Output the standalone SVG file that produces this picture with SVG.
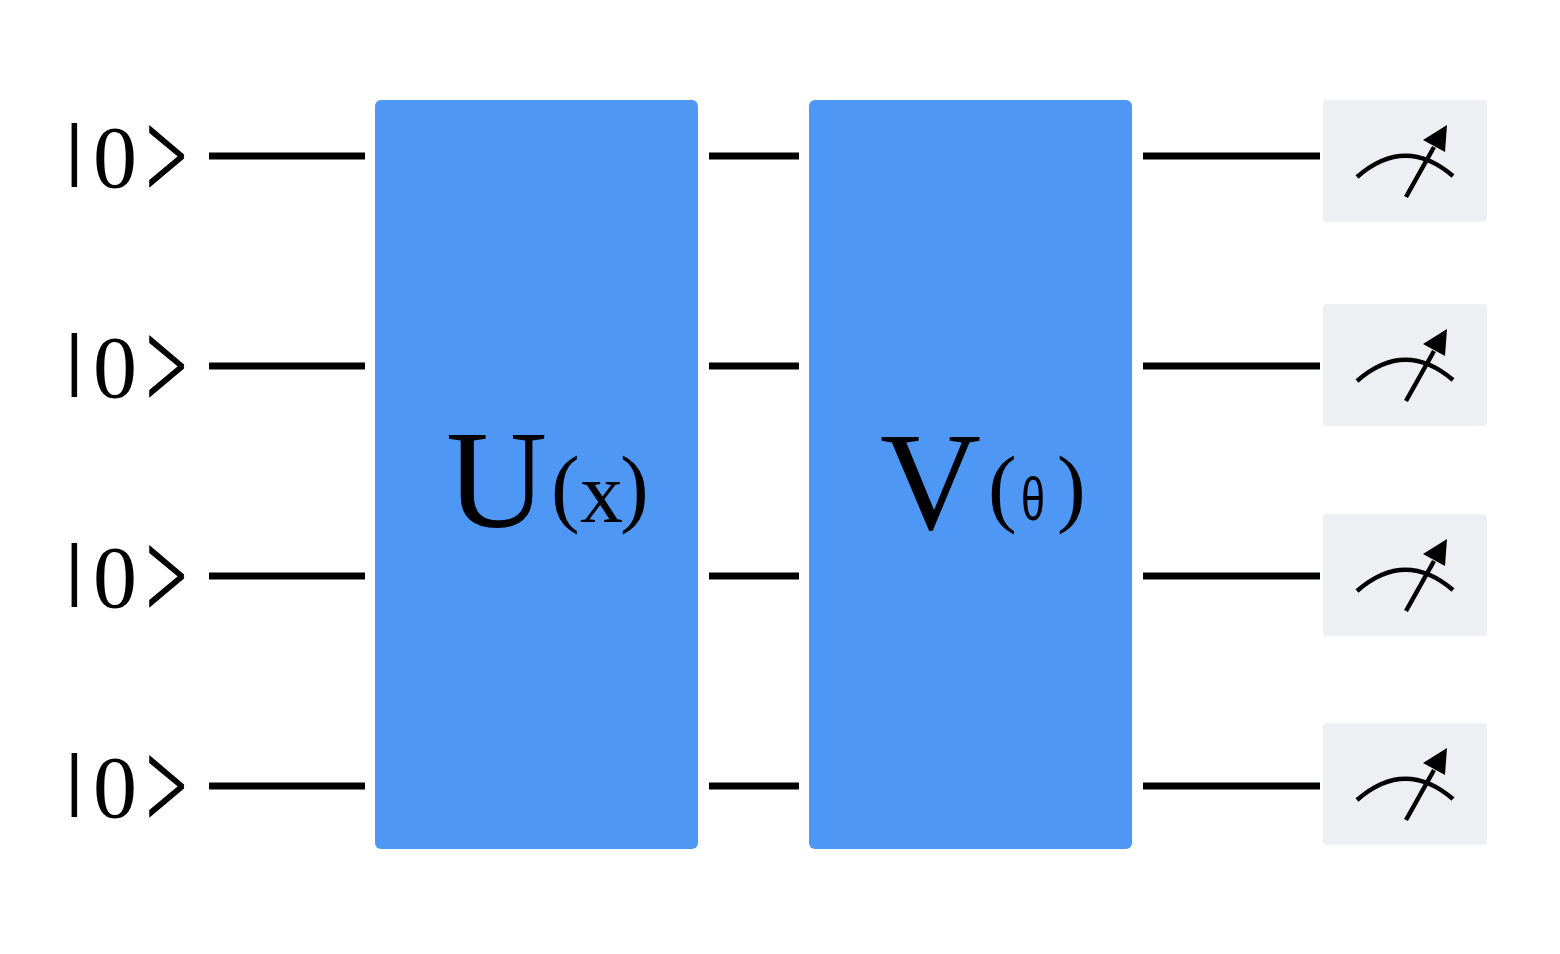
<svg xmlns="http://www.w3.org/2000/svg" xmlns:xlink="http://www.w3.org/1999/xlink" width="1560" height="954" viewBox="0 0 1560 954">
<style>
.wire{stroke:#000;stroke-width:7;fill:none}
.gate{fill:#4E97F5}
.mbox{fill:#EEEFF3}
.meter{stroke:#000;stroke-width:4.5;fill:none;stroke-linecap:butt}
.bar{font-family:"Liberation Sans",Arial,sans-serif;font-size:68px}
.zero{font-family:"Liberation Serif","Times New Roman",serif;font-size:88px}
.ket{font-family:"Liberation Serif","Times New Roman",serif;font-size:73px;stroke:#000;stroke-width:0.8}
.big{font-family:"Liberation Serif","Times New Roman",serif;font-size:140px}
.sub{font-family:"Liberation Serif","Times New Roman",serif;font-size:86px}
.theta{font-family:"Liberation Sans",Arial,sans-serif;font-size:62px}
</style>
<defs>
<g id="meterIcon">
<path class="meter" d="M34,77 Q82,35 130,76"/>
<line class="meter" x1="83" y1="97" x2="111" y2="47"/>
<polygon points="124,25 100,40 122,52" fill="#000"/>
</g>
</defs>
<rect width="1560" height="954" fill="#fff"/>
<g id="connectors">
<line class="wire" x1="209" y1="156" x2="365" y2="156"/>
<line class="wire" x1="209" y1="366" x2="365" y2="366"/>
<line class="wire" x1="209" y1="576" x2="365" y2="576"/>
<line class="wire" x1="209" y1="786" x2="365" y2="786"/>
<line class="wire" x1="709" y1="156" x2="799" y2="156"/>
<line class="wire" x1="709" y1="366" x2="799" y2="366"/>
<line class="wire" x1="709" y1="576" x2="799" y2="576"/>
<line class="wire" x1="709" y1="786" x2="799" y2="786"/>
<line class="wire" x1="1143" y1="156" x2="1320" y2="156"/>
<line class="wire" x1="1143" y1="366" x2="1320" y2="366"/>
<line class="wire" x1="1143" y1="576" x2="1320" y2="576"/>
<line class="wire" x1="1143" y1="786" x2="1320" y2="786"/>
</g>
<g id="q0"><text><tspan class="bar" x="65.6" y="173">|</tspan><tspan class="zero" x="93" y="187">0</tspan></text><text class="ket" transform="translate(146,197.7) scale(1,1.72)">&gt;</text></g>
<g id="q1"><text><tspan class="bar" x="65.6" y="383">|</tspan><tspan class="zero" x="93" y="397">0</tspan></text><text class="ket" transform="translate(146,407.7) scale(1,1.72)">&gt;</text></g>
<g id="q2"><text><tspan class="bar" x="65.6" y="593">|</tspan><tspan class="zero" x="93" y="607">0</tspan></text><text class="ket" transform="translate(146,617.7) scale(1,1.72)">&gt;</text></g>
<g id="q3"><text><tspan class="bar" x="65.6" y="803">|</tspan><tspan class="zero" x="93" y="817">0</tspan></text><text class="ket" transform="translate(146,827.7) scale(1,1.72)">&gt;</text></g>
<g id="gateU">
<rect class="gate" x="375" y="100" width="323" height="749" rx="6"/>
<text><tspan class="big" x="446" y="527">U</tspan><tspan class="sub" x="551" y="516">(</tspan><tspan class="sub" x="580" y="522">x</tspan><tspan class="sub" x="620" y="516">)</tspan></text>
</g>
<g id="gateV">
<rect class="gate" x="809" y="100" width="323" height="749" rx="6"/>
<text><tspan class="big" x="880" y="529">V</tspan><tspan class="sub" x="988" y="516">(</tspan><tspan class="theta" x="1021" y="520" textLength="24" lengthAdjust="spacingAndGlyphs">θ</tspan><tspan class="sub" x="1057" y="516">)</tspan></text>
</g>
<g id="m0"><rect class="mbox" x="1323" y="100" width="164" height="122" rx="4"/><use xlink:href="#meterIcon" x="1323" y="100"/></g>
<g id="m1"><rect class="mbox" x="1323" y="304" width="164" height="122" rx="4"/><use xlink:href="#meterIcon" x="1323" y="304"/></g>
<g id="m2"><rect class="mbox" x="1323" y="514" width="164" height="122" rx="4"/><use xlink:href="#meterIcon" x="1323" y="514"/></g>
<g id="m3"><rect class="mbox" x="1323" y="723" width="164" height="122" rx="4"/><use xlink:href="#meterIcon" x="1323" y="723"/></g>
</svg>
